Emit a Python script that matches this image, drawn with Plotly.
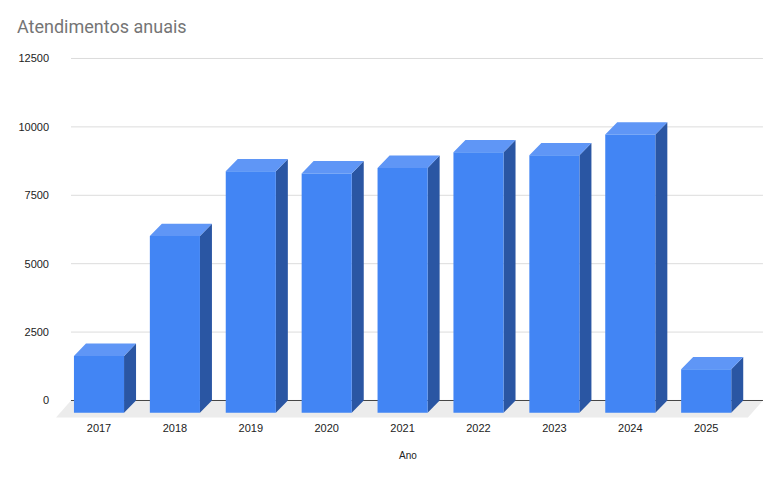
import plotly.graph_objects as go

# Data
years = ["2017", "2018", "2019", "2020", "2021", "2022", "2023", "2024", "2025"]
atendimentos = [2080, 6460, 8830, 8750, 8950, 9520, 9410, 10170, 1590]
y_ticks = [0, 2500, 5000, 7500, 10000, 12500]

# Style
FRONT = "#4285f4"
TOP = "#5f96f6"
SIDE = "#2a56a3"
FLOOR = "#ececec"
GRID = "#dcdcdc"
BASE = "#444444"
TICK = "#222222"
TITLE = "#757575"

W, H = 775, 477
BAR_W = 0.66      # category units
DX = 0.158        # depth in category units
DY = 450          # depth in value units
XR = [-0.6456, 8.788]
GX = [-0.369, 8.748]   # horizontal extent of the grid
YR = [-713, 12810]
FLOOR_DROP = -625

def polys(fn):
    xs, ys = [], []
    for i, v in enumerate(atendimentos):
        px, py = fn(i, v)
        xs += px + [None]
        ys += py + [None]
    return xs, ys

def front(i, v):
    l, r = i - BAR_W / 2, i + BAR_W / 2
    return [l, r, r, l, l], [-DY, -DY, v - DY, v - DY, -DY]

def top(i, v):
    l, r = i - BAR_W / 2, i + BAR_W / 2
    return [l, r, r + DX, l + DX, l], [v - DY, v - DY, v, v, v - DY]

def side(i, v):
    r = i + BAR_W / 2
    return [r, r + DX, r + DX, r, r], [-DY, 0, v, v - DY, -DY]

fig = go.Figure()

def face(xs, ys, color, name):
    fig.add_trace(go.Scatter(x=xs, y=ys, mode="lines", fill="toself", fillcolor=color,
                             line=dict(width=0, color=color),
                             hoverinfo="skip", showlegend=False, name=name))

# gridlines, floor, baseline, then the three visible faces of each bar
gx, gy = [], []
for t in y_ticks[1:]:
    gx += GX + [None]
    gy += [t, t, None]
fig.add_trace(go.Scatter(x=gx, y=gy, mode="lines", line=dict(color=GRID, width=1),
                         hoverinfo="skip", showlegend=False, name="grid"))
fl = DX * 1.25
face([GX[0], GX[1], GX[1] - fl, GX[0] - fl, GX[0]], [0, 0, FLOOR_DROP, FLOOR_DROP, 0], FLOOR, "floor")
fig.add_trace(go.Scatter(x=GX, y=[0, 0], mode="lines", line=dict(color=BASE, width=1),
                         hoverinfo="skip", showlegend=False, name="baseline"))
face(*polys(side), SIDE, "side")
face(*polys(top), TOP, "top")
face(*polys(front), FRONT, "front")

fig.update_layout(
    width=W, height=H, autosize=False,
    margin=dict(l=50, r=9, t=50, b=57, pad=0),
    paper_bgcolor="white", plot_bgcolor="white",
    font=dict(family="Liberation Sans, Arial, sans-serif", size=11, color=TICK),
    showlegend=False,
    title=dict(text="Atendimentos anuais", x=17 / W, xanchor="left", xref="container",
               y=1 - 27 / H, yanchor="middle", yref="container",
               font=dict(family="Roboto, Arial, sans-serif", size=18, color=TITLE)),
    xaxis=dict(range=XR, tickmode="array", tickvals=list(range(len(years))), ticktext=years,
               showgrid=False, zeroline=False, showline=False, ticks="",
               tickfont=dict(size=11, color=TICK),
               title=dict(text="Ano", standoff=18, font=dict(size=10, color=TICK))),
    yaxis=dict(range=YR, tickmode="array", tickvals=y_ticks, ticktext=[str(t) for t in y_ticks],
               showgrid=False, zeroline=False, showline=False, ticks="",
               tickfont=dict(size=11, color=TICK)),
)

fig.write_html("out.html", config={"displayModeBar": False},
               post_script="document.body.style.margin='0';")
